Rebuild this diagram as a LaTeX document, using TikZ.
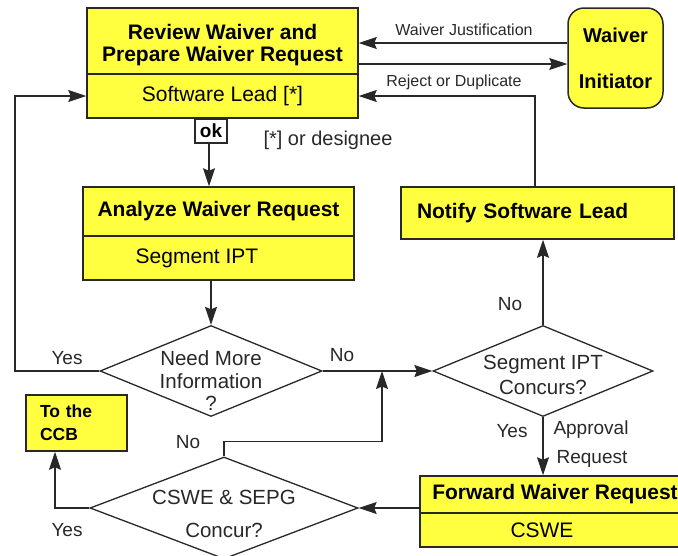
\documentclass[tikz,border=0pt]{standalone}
\usepackage{fontspec}
\setmainfont{Liberation Sans}
\usetikzlibrary{calc,positioning,shapes}
\usetikzlibrary{arrows.meta}
\definecolor{wyellow}{RGB}{255,255,64}
\definecolor{wline}{RGB}{40,40,40}
\tikzset{>={Stealth[width=12pt,length=18pt,inset=2.5pt]}}
\tikzset{block/.style = {draw=wline, fill=wyellow, rectangle, line width=1.5pt,
                  inner sep=0pt, font=\fontsize{21}{22}\selectfont},
        bblock/.style = {block, font=\fontsize{21}{22}\selectfont\bfseries},
        decision/.style = {draw=wline, fill=white, diamond, line width=1.3pt,
                  inner sep=0pt},
        dtext/.style = {align=center, text=wline},
        lbl/.style = {font=\fontsize{19}{22}\selectfont, text=wline},
        smalllbl/.style = {font=\fontsize{16}{18}\selectfont, text=wline}
    }

\begin{document}
\begin{tikzpicture}[x=1pt,y=-1pt]
  \tikzstyle{line} = [draw=wline, line width=1.2pt]
  \useasboundingbox (0,0) rectangle (678,555);

  % boxes
  \node[bblock, minimum width=271pt, minimum height=66pt, align=center] (review) at (222.5,41) {\rule{0pt}{24pt}Review Waiver and\\Prepare Waiver Request};
  \node[block, minimum width=271pt, minimum height=44pt] (lead) at (222.5,96) {Software Lead [*]};
  \node[block, fill=white, font=\fontsize{19}{22}\selectfont\bfseries, minimum width=32pt, minimum height=24pt, anchor=north] (ok) at (211,118) {ok};
  \node[bblock, rounded corners=16pt, minimum width=95pt, minimum height=100pt, align=center, font=\fontsize{20}{46}\selectfont\bfseries] (initiator) at (615.5,58) {Waiver\\Initiator};

  \node[bblock, minimum width=271pt, minimum height=49pt] (analyze) at (218.5,211.5) {Analyze Waiver Request};
  \node[block, minimum width=271pt, minimum height=44pt] (segipt) at (218.5,258) {Segment IPT\hspace*{43pt}};
  \node[bblock, minimum height=52pt, inner xsep=16pt, text width=241pt, align=left] (notify) at (537.5,213) {Notify Software Lead};

  \node[bblock, minimum width=270pt, minimum height=37pt] (fwd) at (555,494.5) {Forward Waiver Request};
  \node[block, minimum width=270pt, minimum height=34pt] (fwdcswe) at (555,530) {CSWE\hspace*{26pt}};
  \node[bblock, minimum height=56pt, inner xsep=14pt, text width=73pt, align=left, font=\fontsize{17.5}{23}\selectfont\bfseries] (ccb) at (76.5,423) {To the\\CCB};

  % decisions
  \node[decision, minimum width=222pt, minimum height=91pt] (need) at (211,371) {};
  \node[dtext, font=\fontsize{20.5}{22.5}\selectfont] (needtxt) at (211,381) {Need More\\Information\\?};
  \node[decision, minimum width=220pt, minimum height=91pt] (segcon) at (543,371) {};
  \node[dtext, font=\fontsize{20.5}{25}\selectfont] (segcontxt) at (543,374.5) {Segment IPT\\Concurs?};
  \node[decision, minimum width=268pt, minimum height=102pt] (cswe) at (224,508) {};
  \node[dtext, font=\fontsize{20.5}{33}\selectfont] (cswetxt) at (224,513.5) {CSWE \& SEPG\\Concur?};

  % connectors
  \coordinate (yesturn) at (15,371);
  \coordinate (nomerge) at (382,371);
  \path (review.east) ++(0,23) coordinate (toinit);
  \draw[line,->] (initiator.west |- 0,43) -- (review.east |- 0,43);
  \draw[line,->] (toinit) -- (toinit -| initiator.west);
  \draw[line,->] (notify.north -| 535,0) |- (lead.east);
  \draw[line,->] (ok.south -| 209,0) -- (analyze.north -| 209,0);
  \draw[line,->] (need.north |- segipt.south) -- (need.north);
  \draw[line,->] (need.west) -- (yesturn) |- (lead.west);
  \draw[line,->] (need.east) -- (segcon.west);
  \draw[line,->] (segcon.north) -- (segcon.north |- notify.south);
  \draw[line,->] (segcon.south) -- (segcon.south |- fwd.north);
  \draw[line,->] (cswe.east -| fwd.west) -- (cswe.east);
  \draw[line,->] (cswe.north) -- ++(0,-15) -| (nomerge);
  \draw[line,->] (cswe.west) -| (ccb.south -| 55,0);

  % labels
  \node[smalllbl] (justlbl) at (464,30) {Waiver Justification};
  \node[smalllbl] (rejlbl) at (454,82) {Reject or Duplicate};
  \node[lbl, font=\fontsize{20}{22}\selectfont] (desig) at (328,140) {[*] or designee};
  \node[lbl] (yes1) at (67,358) {Yes};
  \node[lbl] (no1) at (342,355) {No};
  \node[lbl] (no2) at (510,304) {No};
  \node[lbl] (yes2) at (512,431) {Yes};
  \node[lbl] (approv) at (591,430) {Approval};
  \node[lbl] (reqlbl) at (592,459) {Request};
  \node[lbl] (no3) at (188,442) {No};
  \node[lbl] (yes3) at (67,530) {Yes};
\end{tikzpicture}
\end{document}
